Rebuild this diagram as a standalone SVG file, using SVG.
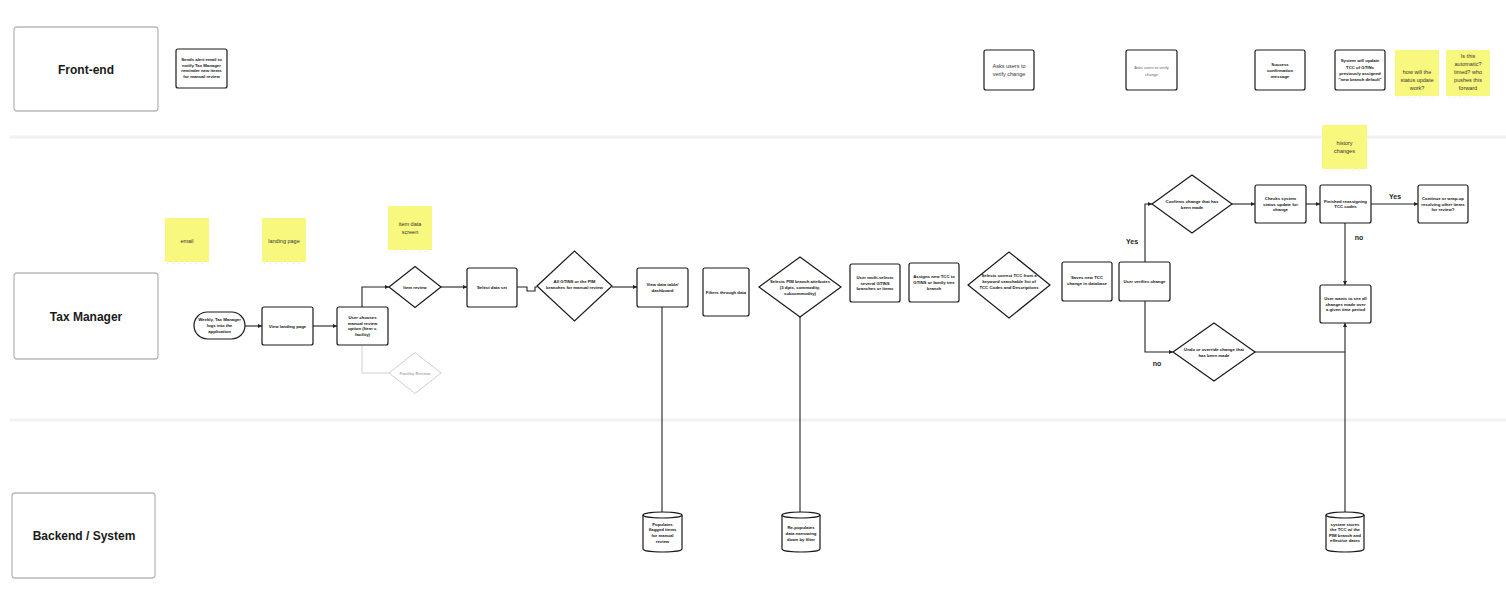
<svg xmlns="http://www.w3.org/2000/svg" width="1506" height="596" viewBox="0 0 1506 596">
<style>
.bg{fill:#fff}
.lane{fill:#fff;stroke:#b9b9b9;stroke-width:1.3}
.lt{font-family:"Liberation Sans",Arial,sans-serif;font-size:12px;font-weight:bold;text-anchor:middle;fill:#1a1a1a}
.box{fill:#fff;stroke:#1a1a1a;stroke-width:1.2}
.gbox{fill:#fff;stroke:#cfcfcf;stroke-width:1}
.t{font-family:"Liberation Sans",Arial,sans-serif;font-size:4.3px;font-weight:bold;text-anchor:middle;fill:#111}
.tn{font-family:"Liberation Sans",Arial,sans-serif;font-size:5.5px;text-anchor:middle;fill:#333}
.tg{font-family:"Liberation Sans",Arial,sans-serif;font-size:4px;text-anchor:middle;fill:#666}
.tgb{font-family:"Liberation Sans",Arial,sans-serif;font-size:4.3px;font-weight:bold;text-anchor:middle;fill:#aaa}
.sticky{fill:#f8f87e}
.sh{stroke:#cfcfcf;stroke-width:0.8;stroke-dasharray:0.8 5}
.st{font-family:"Liberation Sans",Arial,sans-serif;font-size:5.5px;text-anchor:middle;fill:#333}
.sep{stroke:#f1f1f1;stroke-width:3}
.conn{fill:none;stroke:#222;stroke-width:1.1}
.gconn{fill:none;stroke:#d0d0d0;stroke-width:1}
.lbl{font-family:"Liberation Sans",Arial,sans-serif;font-size:7px;font-weight:bold;text-anchor:middle;fill:#222}
</style>
<defs>
<marker id="ah" viewBox="0 0 6 6" refX="6" refY="3" markerWidth="4" markerHeight="4" orient="auto-start-reverse" markerUnits="userSpaceOnUse">
<path d="M0,0 L6,3 L0,6 Z" fill="#222"/>
</marker>
</defs>
<rect class="bg" x="0" y="0" width="1506" height="596"/>
<line class="sep" x1="10" y1="137" x2="1506" y2="137"/>
<line class="sep" x1="10" y1="420" x2="1506" y2="420"/>

<g id="lane-frontend"><rect class="lane" x="14" y="27" width="144" height="84" rx="3"/><text class="lt" x="86" y="74">Front-end</text></g>
<g id="lane-taxmanager"><rect class="lane" x="14" y="273" width="144" height="86" rx="3"/><text class="lt" x="86" y="321">Tax Manager</text></g>
<g id="lane-backend"><rect class="lane" x="12" y="493" width="143" height="85" rx="3"/><text class="lt" x="84" y="540">Backend / System</text></g>

<g id="connectors">
<path class="conn" d="M245,326 H262" marker-end="url(#ah)"/>
<path class="conn" d="M313,326 H337" marker-end="url(#ah)"/>
<path class="conn" d="M362,307 V287 H389" marker-end="url(#ah)"/>
<path class="gconn" d="M362,345 V373 H389"/>
<path class="conn" d="M441,287 H467" marker-end="url(#ah)"/>
<path class="conn" d="M517,287 H527 V291 H535 V287 H537"/>
<path class="conn" d="M612,287 H637" marker-end="url(#ah)"/>
<path class="conn" d="M662,307 V512"/>
<path class="conn" d="M800,317 V512"/>
<path class="conn" d="M1145,262 V204 H1152" marker-end="url(#ah)"/>
<path class="conn" d="M1232,204 H1255" marker-end="url(#ah)"/>
<path class="conn" d="M1306,204 H1320" marker-end="url(#ah)"/>
<path class="conn" d="M1371,204 H1418" marker-end="url(#ah)"/>
<path class="conn" d="M1345,223 V285" marker-end="url(#ah)"/>
<path class="conn" d="M1145,301 V352 H1173" marker-end="url(#ah)"/>
<path class="conn" d="M1255,352 H1345"/>
<path class="conn" d="M1345,512 V323" marker-end="url(#ah)"/>
<text class="lbl" x="1132" y="244">Yes</text>
<text class="lbl" x="1395" y="199">Yes</text>
<text class="lbl" x="1359" y="240">no</text>
<text class="lbl" x="1157" y="366">no</text>
</g>

<g id="n-alert"><rect class="box" x="176" y="49" width="51" height="39" rx="2"/>
<text class="t" x="201.5" y="60.8">Sends alert email to</text><text class="t" x="201.5" y="66.6">notify Tax Manager</text><text class="t" x="201.5" y="72.4">reminder new items</text><text class="t" x="201.5" y="78.2">for manual review</text></g>
<g id="n-asks1"><rect class="box" x="984" y="50" width="50" height="40" rx="2"/>
<text class="tn" x="1009" y="68.2">Asks users to</text><text class="tn" x="1009" y="76.4">verify change</text></g>
<g id="n-asks2"><rect class="box" x="1126" y="50" width="51" height="40" rx="2"/>
<text class="tg" x="1151.5" y="69.3">Asks users to verify</text><text class="tg" x="1151.5" y="75.5">change</text></g>
<g id="n-success"><rect class="box" x="1255" y="50" width="50" height="40" rx="2"/>
<text class="t" x="1280" y="65.9">Success</text><text class="t" x="1280" y="71.9">confirmation</text><text class="t" x="1280" y="77.9">message</text></g>
<g id="n-system"><rect class="box" x="1335" y="50" width="50" height="40" rx="2"/>
<text class="t" x="1360" y="62.4">System will update</text><text class="t" x="1360" y="68.6">TCC of GTINs</text><text class="t" x="1360" y="74.8">previously assigned</text><text class="t" x="1360" y="81">"new branch default"</text></g>
<g id="s-status"><rect class="sticky" x="1395" y="50" width="44" height="46"/><line class="sh" x1="1397" y1="97.5" x2="1437" y2="97.5"/>
<text class="st" x="1417" y="74">how will the</text><text class="st" x="1417" y="82">status update</text><text class="st" x="1417" y="90">work?</text></g>
<g id="s-automatic"><rect class="sticky" x="1446" y="50" width="44" height="46"/><line class="sh" x1="1448" y1="97.5" x2="1488" y2="97.5"/>
<text class="st" x="1468" y="58">Is this</text><text class="st" x="1468" y="66">automatic?</text><text class="st" x="1468" y="74">timed? who</text><text class="st" x="1468" y="82">pushes this</text><text class="st" x="1468" y="90">forward</text></g>

<g id="s-email"><rect class="sticky" x="165" y="218" width="44" height="44"/><line class="sh" x1="167" y1="263.5" x2="207" y2="263.5"/><text class="st" x="187" y="243">email</text></g>
<g id="s-landing"><rect class="sticky" x="262" y="218" width="44" height="44"/><line class="sh" x1="264" y1="263.5" x2="304" y2="263.5"/><text class="st" x="284" y="243">landing page</text></g>
<g id="s-itemdata"><rect class="sticky" x="388" y="206" width="44" height="44"/><line class="sh" x1="390" y1="251.5" x2="430" y2="251.5"/><text class="st" x="410" y="226">item data</text><text class="st" x="410" y="234">screen</text></g>
<g id="s-history"><rect class="sticky" x="1322" y="125" width="45" height="44"/><line class="sh" x1="1324" y1="170.5" x2="1365" y2="170.5"/><text class="st" x="1344.5" y="145.2">history</text><text class="st" x="1344.5" y="153.2">changes</text></g>

<g id="n-start"><rect class="box" x="194" y="312" width="51" height="27" rx="13.5"/>
<text class="t" x="219.5" y="321.2">Weekly, Tax Manager</text><text class="t" x="219.5" y="327">logs into the</text><text class="t" x="219.5" y="332.8">application</text></g>
<g id="n-landing"><rect class="box" x="262" y="307" width="51" height="38" rx="2"/><text class="t" x="287.5" y="327.5">View landing page</text></g>
<g id="n-choose"><rect class="box" x="337" y="307" width="51" height="38" rx="2"/>
<text class="t" x="362.5" y="318.8">User chooses</text><text class="t" x="362.5" y="324.6">manual review</text><text class="t" x="362.5" y="330.4">option (Item v.</text><text class="t" x="362.5" y="336.2">facility)</text></g>
<g id="n-itemreview"><polygon class="box" points="389,287 415,266.5 441,287 415,307.5"/><text class="t" x="415" y="288.5">Item review</text></g>
<g id="n-facility"><polygon class="gbox" points="389,373 415,352.5 441,373 415,393.5"/><text class="tgb" x="415" y="374.5">Facility Review</text></g>
<g id="n-selectdata"><rect class="box" x="467" y="268" width="50" height="39" rx="2"/><text class="t" x="492" y="289">Select data set</text></g>
<g id="n-allgtins"><polygon class="box" points="537,286 574.5,251 612,286 574.5,321"/>
<text class="t" x="574.5" y="283.2">All GTINS or the PIM</text><text class="t" x="574.5" y="289">branches for manual review</text></g>
<g id="n-viewdata"><rect class="box" x="637" y="268" width="51" height="39" rx="2"/>
<text class="t" x="662.5" y="286">View data table/</text><text class="t" x="662.5" y="291.8">dashboard</text></g>
<g id="n-filters"><rect class="box" x="703" y="268" width="46" height="48" rx="2"/><text class="t" x="726" y="293.5">Filters through data</text></g>
<g id="n-selectspim"><polygon class="box" points="759,287 800,257 841,287 800,317"/>
<text class="t" x="800" y="283.2">Selects PIM branch attributes</text><text class="t" x="800" y="289">(3 dpts, commodity,</text><text class="t" x="800" y="294.8">subcommodity)</text></g>
<g id="n-multi"><rect class="box" x="850" y="264" width="50" height="38" rx="2"/>
<text class="t" x="875" y="278.7">User multi-selects</text><text class="t" x="875" y="284.5">several GTINS</text><text class="t" x="875" y="290.3">branches or items</text></g>
<g id="n-assigns"><rect class="box" x="909" y="263" width="50" height="39" rx="2"/>
<text class="t" x="934" y="278.2">Assigns new TCC to</text><text class="t" x="934" y="284">GTINS or family tree</text><text class="t" x="934" y="289.8">branch</text></g>
<g id="n-selectscorrect"><polygon class="box" points="968,285 1009,252 1050,285 1009,318"/>
<text class="t" x="1009" y="277">Selects correct TCC from a</text><text class="t" x="1009" y="282.8">keyword searchable list of</text><text class="t" x="1009" y="288.6">TCC Codes and Descriptions</text></g>
<g id="n-saves"><rect class="box" x="1062" y="262" width="50" height="39" rx="2"/>
<text class="t" x="1087" y="279.2">Saves new TCC</text><text class="t" x="1087" y="285">change in database</text></g>
<g id="n-verifies"><rect class="box" x="1119" y="262" width="51" height="39" rx="2"/><text class="t" x="1144.5" y="283">User verifies change</text></g>
<g id="n-confirms"><polygon class="box" points="1152,204 1192,175 1232,204 1192,233"/>
<text class="t" x="1192" y="203.2">Confirms change that has</text><text class="t" x="1192" y="209">been made</text></g>
<g id="n-checks"><rect class="box" x="1255" y="185" width="51" height="38" rx="2"/>
<text class="t" x="1280.5" y="199.8">Checks system</text><text class="t" x="1280.5" y="205.6">status update for</text><text class="t" x="1280.5" y="211.4">change</text></g>
<g id="n-finished"><rect class="box" x="1320" y="185" width="51" height="38" rx="2"/>
<text class="t" x="1345.5" y="202.5">Finished reassigning</text><text class="t" x="1345.5" y="208.3">TCC codes</text></g>
<g id="n-continue"><rect class="box" x="1418" y="185" width="50" height="38" rx="2"/>
<text class="t" x="1443" y="199.8">Continue or wrap-up</text><text class="t" x="1443" y="205.6">resolving other items</text><text class="t" x="1443" y="211.4">for review?</text></g>
<g id="n-wants"><rect class="box" x="1320" y="285" width="51" height="38" rx="2"/>
<text class="t" x="1345.5" y="299.8">User wants to see all</text><text class="t" x="1345.5" y="305.6">changes made over</text><text class="t" x="1345.5" y="311.4">a given time period</text></g>
<g id="n-undo"><polygon class="box" points="1173,352 1214,323 1255,352 1214,381"/>
<text class="t" x="1214" y="350.8">Undo or override change that</text><text class="t" x="1214" y="356.6">has been made</text></g>

<g id="n-populates"><path class="box" d="M643,515 V549 A19.5,3 0 0 0 682,549 V515 A19.5,3 0 0 0 643,515 Z"/><path class="box" fill="none" d="M643,515 A19.5,3 0 0 0 682,515"/>
<text class="t" x="662.5" y="525.5">Populates</text><text class="t" x="662.5" y="531.3">flagged items</text><text class="t" x="662.5" y="537.1">for manual</text><text class="t" x="662.5" y="542.9">review</text></g>
<g id="n-repopulates"><path class="box" d="M782,515 V549 A19,3 0 0 0 820,549 V515 A19,3 0 0 0 782,515 Z"/><path class="box" fill="none" d="M782,515 A19,3 0 0 0 820,515"/>
<text class="t" x="801" y="529.2">Re-populates</text><text class="t" x="801" y="535">data narrowing</text><text class="t" x="801" y="540.8">down by filter</text></g>
<g id="n-stores"><path class="box" d="M1326,515 V549 A19,3 0 0 0 1364,549 V515 A19,3 0 0 0 1326,515 Z"/><path class="box" fill="none" d="M1326,515 A19,3 0 0 0 1364,515"/>
<text class="t" x="1345" y="525.8">system stores</text><text class="t" x="1345" y="531.3">the TCC w/ the</text><text class="t" x="1345" y="536.8">PIM branch and</text><text class="t" x="1345" y="542.3">effective dates</text></g>
</svg>
